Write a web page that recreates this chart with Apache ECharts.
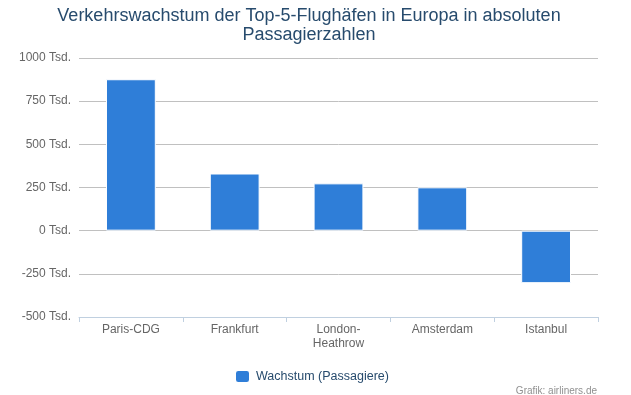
<!DOCTYPE html>
<html>
<head>
<meta charset="utf-8">
<script src="https://cdn.jsdelivr.net/npm/echarts@6/dist/echarts.min.js"></script>
<style>html,body{margin:0;padding:0;background:#fff;}#c{width:631px;height:395px;}</style>
</head>
<body>
<div id="c"></div>
<script>
const categories = ["Paris-CDG", "Frankfurt", "London-Heathrow", "Amsterdam", "Istanbul"];
const growth = [877, 331, 274, 251, -304];
const seriesName = "Wachstum (Passagiere)";
const titleText = "Verkehrswachstum der Top-5-Flughäfen in Europa in absoluten\nPassagierzahlen";
const creditText = "Grafik: airliners.de";
const yMin = -500, yMax = 1000, yStep = 250;

const FONT = "'Liberation Sans', Arial, sans-serif";
const chart = echarts.init(document.getElementById('c'), null, {renderer: 'canvas'});
chart.setOption({
  animation: false,
  backgroundColor: '#fff',
  title: [{
    text: titleText,
    left: 304,
    top: 2,
    textAlign: 'center',
    textStyle: {color: '#274b6d', fontSize: 18, fontWeight: 'normal', fontFamily: FONT, lineHeight: 19}
  }, {
    text: creditText,
    right: 34,
    top: 386,
    padding: 0,
    textStyle: {color: '#909090', fontSize: 10, fontWeight: 'normal', fontFamily: FONT}
  }],
  legend: {
    data: [seriesName],
    left: 229,
    top: 364,
    itemWidth: 15,
    itemHeight: 13,
    itemGap: 6,
    icon: 'roundRect',
    textStyle: {color: '#274b6d', fontSize: 12.5, fontFamily: FONT, padding: [0, 0, 0, 1]}
  },
  grid: {left: 79, right: 33, top: 58, bottom: 78, containLabel: false},
  xAxis: {
    type: 'category',
    data: categories,
    axisLine: {onZero: false, lineStyle: {color: '#C0D0E0', width: 1}},
    axisTick: {show: true, length: 5, lineStyle: {color: '#C0D0E0'}},
    axisLabel: {
      color: '#666', fontSize: 12, fontFamily: FONT, margin: 6, lineHeight: 14,
      interval: 0,
      formatter: v => v.replace('London-', 'London-\n')
    }
  },
  yAxis: {
    type: 'value',
    min: yMin, max: yMax, interval: yStep,
    axisLine: {show: false},
    axisTick: {show: false},
    splitLine: {lineStyle: {color: '#C0C0C0', width: 1}},
    axisLabel: {color: '#666', fontSize: 12, fontFamily: FONT, margin: 8, formatter: v => v + ' Tsd.'}
  },
  series: [{
    name: seriesName,
    type: 'bar',
    data: growth,
    barWidth: '48%',
    itemStyle: {color: '#2f7ed8', borderColor: '#fff', borderWidth: 1}
  }]
});
</script>
</body>
</html>
